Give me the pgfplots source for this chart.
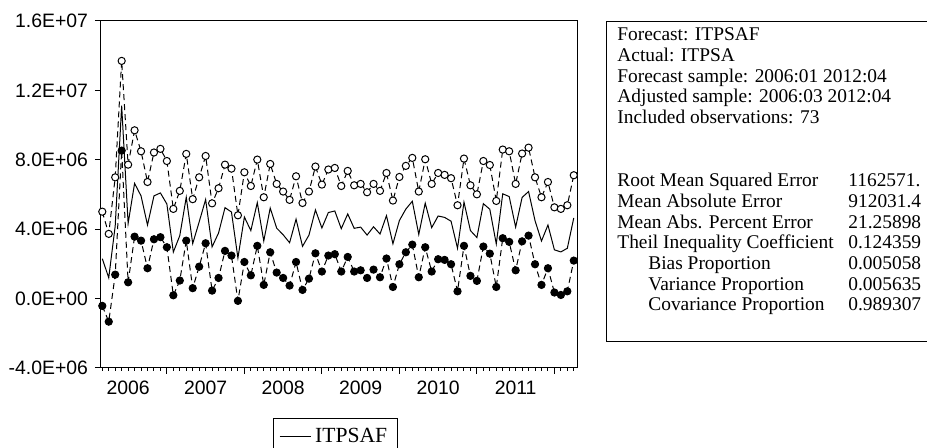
\documentclass[border=0pt]{standalone}
\usepackage{pgfplots}
\pgfplotsset{compat=1.18}
\usepackage{pgfplotstable}
\usepackage{fontspec}
\setmainfont{Liberation Serif}
\newfontfamily\arial{Liberation Sans}

\pgfplotstableread{
k up lo fc
0 5.01 -0.42 2.30
1 3.73 -1.33 1.20
2 6.99 1.38 4.19
3 13.70 8.53 11.12
4 7.72 0.94 4.33
5 9.70 3.57 6.64
6 8.49 3.34 5.92
7 6.72 1.75 4.24
8 8.42 3.42 5.92
9 8.63 3.54 6.09
10 7.93 2.96 5.45
11 5.17 0.19 2.68
12 6.21 1.04 3.63
13 8.34 3.34 5.84
14 5.73 0.60 3.17
15 6.99 1.84 4.42
16 8.22 3.19 5.71
17 5.49 0.46 2.98
18 6.36 1.19 3.78
19 7.72 2.75 5.24
20 7.49 2.48 4.99
21 4.80 -0.13 2.34
22 7.28 2.11 4.70
23 6.49 1.34 3.92
24 8.01 3.04 5.53
25 5.84 0.79 3.32
26 7.76 2.67 5.22
27 6.61 1.50 4.06
28 6.17 1.19 3.68
29 5.69 0.75 3.22
30 7.05 2.11 4.58
31 5.51 0.50 3.01
32 6.17 1.15 3.66
33 7.61 2.61 5.11
34 6.57 1.56 4.07
35 7.44 2.48 4.96
36 7.53 2.56 5.05
37 6.49 1.56 4.03
38 7.36 2.40 4.88
39 6.53 1.56 4.05
40 6.61 1.63 4.12
41 6.13 1.19 3.66
42 6.61 1.67 4.14
43 6.21 1.23 3.72
44 7.24 2.31 4.78
45 5.65 0.67 3.16
46 7.01 1.98 4.50
47 7.65 2.67 5.16
48 8.11 3.11 5.61
49 6.17 1.23 3.70
50 8.03 2.96 5.50
51 6.61 1.56 4.09
52 7.24 2.27 4.76
53 7.13 2.23 4.68
54 6.94 1.98 4.46
55 5.38 0.42 2.90
56 8.07 3.04 5.56
57 6.53 1.31 3.92
58 6.01 1.02 3.52
59 7.93 3.00 5.47
60 7.70 2.59 5.15
61 5.63 0.67 3.15
62 8.59 3.48 6.04
63 8.49 3.27 5.88
64 6.61 1.63 4.12
65 8.36 3.30 5.83
66 8.70 3.63 6.17
67 6.99 1.98 4.49
68 5.84 0.79 3.32
69 6.72 1.75 4.24
70 5.26 0.35 2.81
71 5.17 0.21 2.69
72 5.38 0.42 2.90
73 7.11 2.19 4.65
}\data

\newcommand{\tfont}{\fontsize{9.7}{11}\selectfont}
\newcommand{\statline}[2]{\node[anchor=base west,inner sep=0pt,font=\tfont] at (308.5pt,{(448-#1)*0.5pt}) {#2};}
\newcommand{\statrow}[4]{\node[anchor=base west,inner sep=0pt,font=\tfont] at ({#2},{(448-#1)*0.5pt}) {#3};
  \node[anchor=base west,inner sep=0pt,font=\tfont] at (424pt,{(448-#1)*0.5pt}) {#4};}

\begin{document}
\begin{tikzpicture}
\useasboundingbox (0,0) rectangle (463.5pt,224pt);
\begin{axis}[
  at={(50.5pt,40pt)}, anchor=south west,
  scale only axis, width=238pt, height=173.5pt,
  xmin=-0.2, xmax=73.5, ymin=-4, ymax=16,
  clip=false,
  axis line style={line width=0.5pt},
  tick align=outside,
  xtick pos=bottom, ytick pos=left,
  xtick={10,22,34,46,58,70}, xticklabels={},
  minor xtick={0,...,73},
  extra x ticks={4,16,28,40,52,64},
  extra x tick labels={2006,2007,2008,2009,2010,2011},
  extra x tick style={major tick length=3pt, tick style={draw=none}},
  ytick={-4,0,4,8,12,16},
  yticklabels={-4.0E+06,0.0E+00,4.0E+06,8.0E+06,1.2E+07,1.6E+07},
  major tick length=3pt, minor tick length=1.3pt,
  tick style={black, line width=0.5pt},
  ticklabel style={font=\arial\fontsize{9.7}{11}\selectfont},
  legend style={at={(0.3607,-0.145)}, anchor=north west, draw=black, line width=0.5pt,
    font=\fontsize{10.8}{12}\selectfont, inner xsep=3pt, inner ysep=2.5pt},
  legend image code/.code={\draw[#1] (0pt,0pt) -- (15.5pt,0pt);},
]
\addplot[black, line width=0.5pt, mark=none] table[x=k,y=fc]{\data};
\addlegendentry{ITPSAF}
\addplot[black, line width=0.5pt, dash pattern=on 3pt off 2pt, mark=*, mark size=1.8pt,
  mark options={solid, fill=white}, forget plot] table[x=k,y=up]{\data};
\addplot[black, line width=0.5pt, dash pattern=on 3pt off 2pt, mark=*, mark size=1.8pt,
  mark options={solid, fill=black}, forget plot] table[x=k,y=lo]{\data};
\end{axis}
% statistics box (cut at the right edge)
\draw[line width=0.5pt] (463.5pt,{(448-21.7)*0.5pt}) -- (303pt,{(448-21.7)*0.5pt}) -- (303pt,{(448-341.3)*0.5pt}) -- (463.5pt,{(448-341.3)*0.5pt});
\statline{40.8}{Forecast: ITPSAF}
\statline{61.5}{Actual: ITPSA}
\statline{82.2}{Forecast sample: 2006:01 2012:04}
\statline{102.9}{Adjusted sample: 2006:03 2012:04}
\statline{123.6}{Included observations: 73}
\statrow{186.8}{308.5pt}{Root Mean Squared Error}{1162571.}
\statrow{207.5}{308.5pt}{Mean Absolute Error}{912031.4}
\statrow{228.2}{308.5pt}{Mean Abs. Percent Error}{21.25898}
\statrow{248.9}{308.5pt}{Theil Inequality Coefficient}{0.124359}
\statrow{269.6}{324pt}{Bias Proportion}{0.005058}
\statrow{290.3}{324pt}{Variance Proportion}{0.005635}
\statrow{311.0}{324pt}{Covariance Proportion}{0.989307}
\end{tikzpicture}
\end{document}
